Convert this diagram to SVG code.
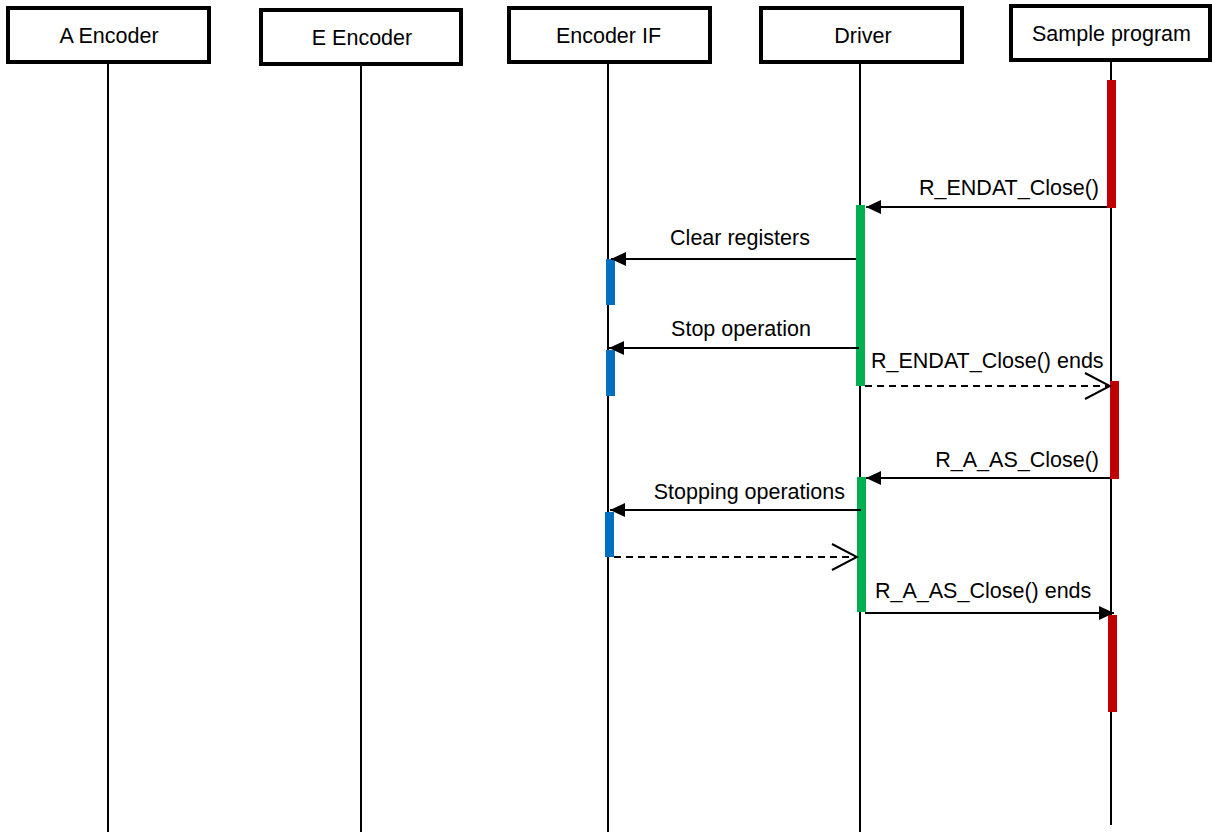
<svg xmlns="http://www.w3.org/2000/svg" width="1212" height="832" viewBox="0 0 1212 832">
<defs>
<style>
.box{fill:#fff;stroke:#000;stroke-width:4}
.life{stroke:#000;stroke-width:2;fill:none}
.msg{stroke:#000;stroke-width:2;fill:none}
.dash{stroke:#000;stroke-width:2;fill:none;stroke-dasharray:7,5}
.t{font-family:"Liberation Sans",Arial,sans-serif;font-size:21.5px;fill:#000}
.red{fill:#c00000}
.green{fill:#00b050}
.blue{fill:#0070c0}
</style>
<marker id="fill" markerWidth="16" markerHeight="14" refX="15" refY="7" orient="auto" markerUnits="userSpaceOnUse">
<path d="M0,0 L15,7 L0,14 Z" fill="#000"/>
</marker>
<marker id="open" markerWidth="28" markerHeight="30" refX="26" refY="15" orient="auto" markerUnits="userSpaceOnUse">
<path d="M1,2 L26,15 L1,28" fill="none" stroke="#000" stroke-width="2"/>
</marker>
</defs>
<rect width="1212" height="832" fill="#fff"/>
<g id="lifelines">
<line class="life" x1="108" y1="62" x2="108" y2="832"/>
<line class="life" x1="361" y1="64" x2="361" y2="832"/>
<line class="life" x1="608" y1="62" x2="608" y2="832"/>
<line class="life" x1="860" y1="62" x2="860" y2="832"/>
<line class="life" x1="1111" y1="60" x2="1111" y2="825"/>
</g>
<g id="node-a-encoder"><rect class="box" x="8" y="8" width="201" height="54"/><text class="t" x="109" y="43" text-anchor="middle">A Encoder</text></g>
<g id="node-e-encoder"><rect class="box" x="261" y="10" width="200" height="54"/><text class="t" x="362" y="45" text-anchor="middle">E Encoder</text></g>
<g id="node-encoder-if"><rect class="box" x="509" y="8" width="201" height="54"/><text class="t" x="608.5" y="43" text-anchor="middle">Encoder IF</text></g>
<g id="node-driver"><rect class="box" x="761" y="8" width="201" height="54"/><text class="t" x="863" y="43" text-anchor="middle">Driver</text></g>
<g id="node-sample"><rect class="box" x="1011" y="6" width="199" height="54"/><text class="t" x="1111.5" y="41" text-anchor="middle">Sample program</text></g>
<g id="activations">
<rect class="red" x="1107" y="80" width="9" height="128"/>
<rect class="green" x="856" y="205" width="9" height="181"/>
<rect class="blue" x="606" y="259" width="9" height="46"/>
<rect class="blue" x="606" y="350" width="9" height="46"/>
<rect class="red" x="1110" y="381" width="9" height="98"/>
<rect class="green" x="857" y="477" width="9" height="135"/>
<rect class="blue" x="605" y="512" width="9" height="45"/>
<rect class="red" x="1108" y="615" width="9" height="97"/>
</g>
<g id="connectors">
<line class="msg" x1="1107" y1="207" x2="866" y2="207" marker-end="url(#fill)"/>
<line class="msg" x1="856" y1="259" x2="611" y2="259" marker-end="url(#fill)"/>
<line class="msg" x1="859" y1="348" x2="609" y2="348" marker-end="url(#fill)"/>
<line class="dash" x1="865" y1="386" x2="1110" y2="386" marker-end="url(#open)"/>
<line class="msg" x1="1110" y1="478" x2="866" y2="478" marker-end="url(#fill)"/>
<line class="msg" x1="861" y1="510" x2="610" y2="510" marker-end="url(#fill)"/>
<line class="dash" x1="614" y1="557" x2="857" y2="557" marker-end="url(#open)"/>
<line class="msg" x1="865" y1="613" x2="1114" y2="613" marker-end="url(#fill)"/>
</g>
<g id="labels">
<text class="t" x="1099" y="195" text-anchor="end">R_ENDAT_Close()</text>
<text class="t" x="740" y="245" text-anchor="middle">Clear registers</text>
<text class="t" x="741" y="336" text-anchor="middle">Stop operation</text>
<text class="t" x="871" y="368">R_ENDAT_Close() ends</text>
<text class="t" x="1099" y="467" text-anchor="end">R_A_AS_Close()</text>
<text class="t" x="845" y="499" text-anchor="end">Stopping operations</text>
<text class="t" x="875" y="598">R_A_AS_Close() ends</text>
</g>
</svg>
